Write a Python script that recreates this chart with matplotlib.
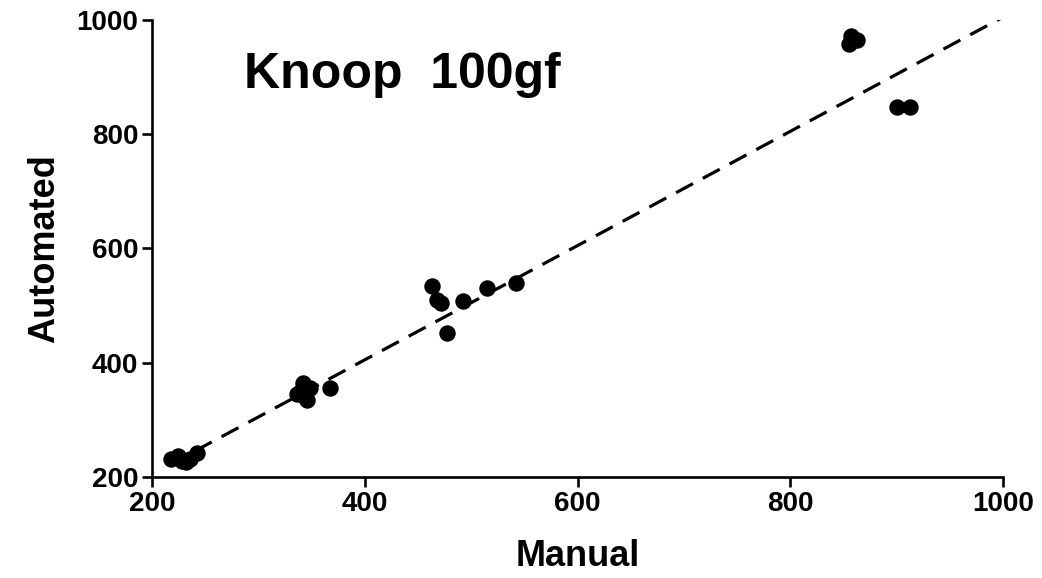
import numpy as np
import matplotlib.pyplot as plt

plt.rcParams['font.family'] = ['Liberation Sans', 'DejaVu Sans']
plt.rcParams['font.weight'] = 'bold'

# hardness readings, manual vs automated
manual = [218, 224, 228, 232, 236, 242,
          336, 340, 342, 344, 346, 348, 367,
          463, 468, 472, 477, 492, 515, 542,
          855, 857, 863, 900, 913]
automated = [232, 236, 228, 226, 232, 242,
             345, 350, 365, 340, 335, 355, 355,
             535, 510, 505, 452, 508, 531, 540,
             958, 972, 965, 848, 848]

# trend line
fit_slope = 1.0
fit_icpt = 5.0
fit_x = [215, 1005]

ticks = [200, 400, 600, 800, 1000]

fig = plt.figure(figsize=(10.42, 5.78), dpi=100)
ax = fig.add_axes([0.146, 0.175, 0.8166, 0.7904])

ax.scatter(manual, automated, s=140, c='black', zorder=3, linewidths=0)
fx = np.array(fit_x)
ax.plot(fx, fit_slope*fx + fit_icpt, color='black', lw=2.3, dashes=(6, 3.5))

ax.set_xlim(200, 1000)
ax.set_ylim(200, 1000)
ax.set_xticks(ticks)
ax.set_yticks(ticks)
ax.spines['top'].set_visible(False)
ax.spines['right'].set_visible(False)
for s in ['left', 'bottom']:
    ax.spines[s].set_linewidth(1.9)
ax.tick_params(direction='out', length=7, width=1.9, labelsize=20, pad=3)
ax.set_xlabel('Manual', fontsize=26, fontweight='bold', labelpad=16)
ax.set_ylabel('Automated', fontsize=26, fontweight='bold', labelpad=10)
ax.text(286, 903, 'Knoop  100gf', fontsize=36, fontweight='bold', va='center')

plt.savefig('out.png', dpi=100)
